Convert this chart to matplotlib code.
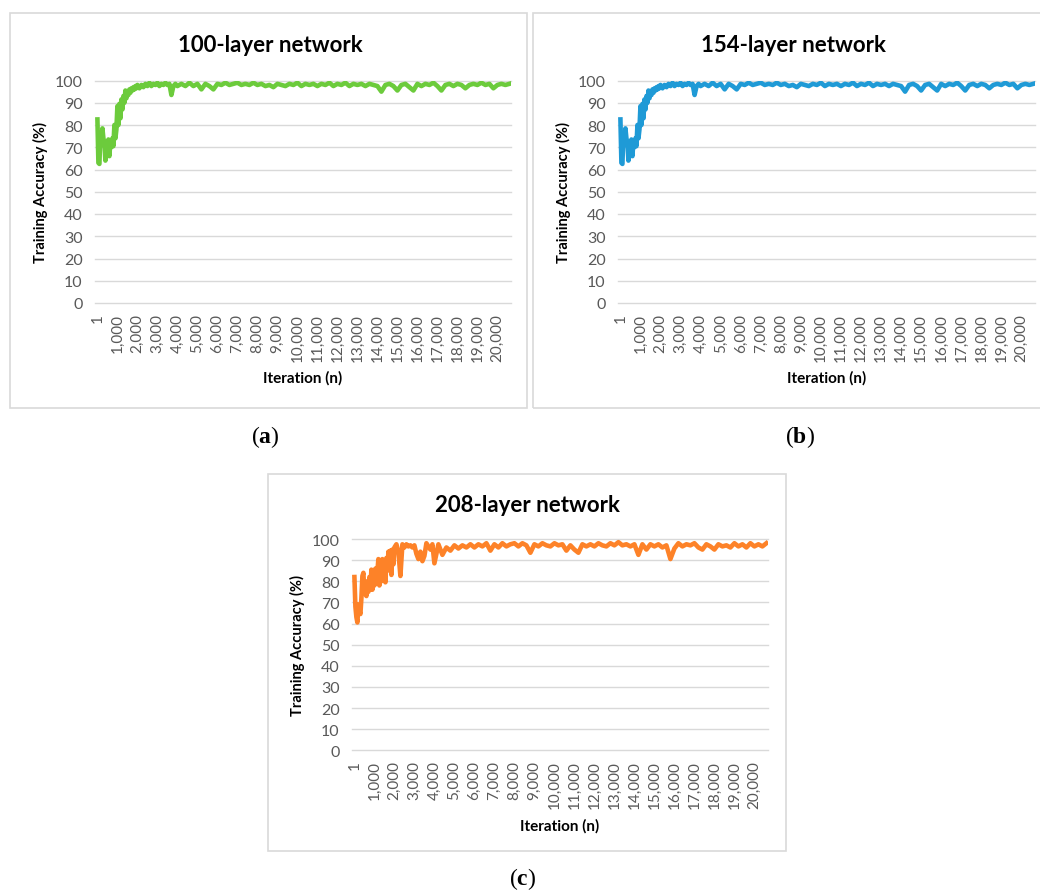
import matplotlib
matplotlib.use('Agg')
import matplotlib.pyplot as plt
from matplotlib.patches import Rectangle

plt.rcParams['font.family'] = ['Lato', 'DejaVu Sans']
plt.rcParams['mathtext.fontset'] = 'custom'
plt.rcParams['mathtext.rm'] = 'Liberation Serif'
plt.rcParams['mathtext.bf'] = 'Liberation Serif:bold'

# sampled iterations: every 50 up to 2000, every 100 up to 4000, every 200 after
iters = [1] + list(range(50, 2001, 50)) + list(range(2100, 4001, 100)) + list(range(4200, 20601, 200))

# 100-layer network (same curve is shown for 154 layers)
acc_100 = [
    # 1 .. 2000
    82.5, 63, 62.5, 76, 71, 78.5, 74, 72, 64, 67,
    68, 73.5, 66, 73, 70, 74, 70.5, 80, 74, 78,
    88.5, 80, 89.5, 83, 91.5, 87, 93, 90, 95.5, 92,
    95, 93.5, 96, 94.5, 96.5, 95.5, 97, 96, 97.5, 96.5,
    98,
    # 2100 .. 4000
    96.5, 98, 97, 98.5, 97.5, 99, 97.5, 98.5, 98, 99,
    97.5, 98.5, 98, 99, 98, 98.5, 93.5, 97.5, 98.5, 97.5,
    # 4200 .. 20600
    98.5, 97.5, 99, 97.5, 98.5, 96, 98.5, 97.5, 96, 98.5,
    98, 99, 98, 98.5, 99, 98, 98.5, 98, 99, 98,
    98.5, 97.5, 98, 97, 98.5, 98, 97.5, 98.5, 98, 99,
    97.5, 98.5, 98, 98.5, 97.5, 98.5, 98, 99, 97.5, 98.5,
    98, 99, 97.5, 98.5, 98, 98.5, 97.5, 98.5, 98, 97.5,
    95, 98, 98.5, 97.5, 95.5, 98, 98.5, 97, 95.5, 98.5,
    97.5, 98.5, 98, 99, 97.5, 95.5, 98, 98.5, 97.5, 98.5,
    98, 96.5, 98, 98.5, 98, 99, 98, 98.5, 96.5, 98,
    98.5, 98, 98.5,
]
acc_154 = list(acc_100)

acc_208 = [
    # 1 .. 2000
    82, 68, 63, 60.5, 69, 66, 64.5, 72, 82.5, 84,
    74, 76, 73, 80, 75, 82, 76, 85.5, 76, 83,
    78, 86, 79, 85, 90.5, 78, 88, 80, 90.5, 81,
    88, 79.5, 91, 85, 94, 86, 94.5, 83, 95, 88,
    96,
    # 2100 .. 4000
    97.5, 94, 82.5, 97.5, 96, 97.5, 96.5, 97, 96, 97,
    93, 90.5, 94, 89.5, 92, 98, 96.5, 95, 97.5, 88.5,
    # 4200 .. 20600
    97.5, 92.5, 96, 94.5, 97, 95.5, 97, 96, 97.5, 96,
    97.5, 96.5, 98, 94.5, 97.5, 96, 98, 96.5, 97.5, 98,
    96.5, 98, 97, 93.5, 97.5, 96.5, 98, 97, 96.5, 98,
    97, 97.5, 94.5, 97, 95, 93.5, 97.5, 96.5, 97.5, 96.5,
    98, 97, 96.5, 98, 97, 98.5, 97, 97.5, 96.5, 97.5,
    92.5, 97.5, 95, 97.5, 96.5, 97.5, 96, 97, 90.5, 95.5,
    98, 96.5, 97.5, 97, 98, 96, 95, 97.5, 96.5, 95,
    97.5, 96.5, 97, 96, 98, 96.5, 97.5, 96, 98, 96.5,
    97.5, 96.5, 98,
]

titles = ['100-layer network', '154-layer network', '208-layer network']
colors = ['#6ccb3c', '#1f9ad6', '#fd8228']
xticks = [1] + list(range(1000, 20001, 1000))
xlabels = ['{:,}'.format(t) for t in xticks]
yticks = list(range(0, 101, 10))

W, H = 1040, 895
fig = plt.figure(figsize=(W / 100, H / 100), dpi=100)


def px_axes(x0, y0, x1, y1):
    # pixel box (top-left origin) -> figure axes
    return fig.add_axes([x0 / W, 1 - y1 / H, (x1 - x0) / W, (y1 - y0) / H])


def frame(x0, y0, x1, y1):
    fig.add_artist(Rectangle((x0 / W, 1 - y1 / H), (x1 - x0) / W, (y1 - y0) / H,
                             transform=fig.transFigure, fill=False,
                             edgecolor='#d9d9d9', lw=1.2))


def panel(box, plot, title_x, acc, title, color, tag, tag_xy):
    frame(*box)
    ax = px_axes(*plot)
    for t in yticks:
        ax.axhline(t, color='#d9d9d9', lw=1, zorder=0, clip_on=False)
    ax.plot(iters, acc, color=color, lw=3.3, solid_joinstyle='round', zorder=3)
    ax.set_xlim(-120, 20680)
    ax.set_ylim(0, 100)
    ax.set_xticks(xticks)
    ax.set_xticklabels(xlabels, rotation=90, fontsize=11, color='#595959')
    ax.set_yticks(yticks)
    ax.set_yticklabels([str(t) for t in yticks], fontsize=11.5, color='#595959')
    ax.tick_params(length=0)
    ax.tick_params(axis='x', pad=7)
    ax.tick_params(axis='y', pad=9)
    for s in ax.spines.values():
        s.set_visible(False)
    ax.set_xlabel('Iteration (n)', fontsize=11, fontweight='bold', labelpad=7)
    ax.set_ylabel('Training Accuracy (%)', fontsize=10.5, fontweight='bold', labelpad=5)
    fig.text(title_x / W, 1 - (box[1] + 31) / H, title, ha='center', va='center',
             fontsize=16, fontweight='bold')
    fig.text(tag_xy[0] / W, 1 - tag_xy[1] / H, r'($\mathbf{' + tag + '}$)',
             ha='center', va='center', fontsize=17, family='Liberation Serif')
    return ax


panel((10, 14, 527, 409), (95, 81.5, 511, 304), 270, acc_100, titles[0], colors[0], 'a', (265, 437))
panel((533, 14, 1052, 409), (618, 81.5, 1035, 304), 793, acc_154, titles[1], colors[1], 'b', (800, 437))
panel((268, 475, 786, 852), (352, 540, 768, 751.3), 527, acc_208, titles[2], colors[2], 'c', (523, 879))

fig.savefig('out.png', dpi=100)
